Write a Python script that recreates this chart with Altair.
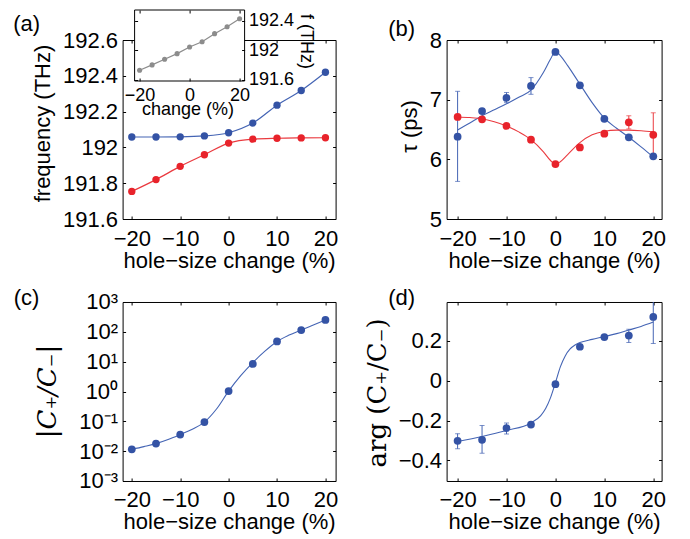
import altair as alt
import pandas as pd

# ---------------- data ----------------
pct = [-20, -15, -10, -5, 0, 5, 10, 15, 20]

# (a) resonance frequencies (THz)
freq_blue = [192.058, 192.058, 192.059, 192.064, 192.082, 192.136, 192.236, 192.318, 192.420]
freq_red = [191.754, 191.820, 191.894, 191.959, 192.024, 192.046, 192.051, 192.053, 192.054]
# (a) inset
inset_freq = [191.727, 191.800, 191.877, 191.954, 192.045, 192.117, 192.227, 192.322, 192.431]

# (b) lifetimes (ps)
tau_blue = [6.38, 6.81, 7.03, 7.23, 7.80, 7.24, 6.68, 6.37, 6.05]
tau_red = [6.71, 6.67, 6.56, 6.33, 5.92, 6.20, 6.43, 6.62, 6.41]
tau_blue_err_x = [-20, -10, -5]
tau_blue_err_lo = [5.63, 6.95, 7.09]
tau_blue_err_hi = [7.14, 7.12, 7.37]
tau_red_err_x = [15, 20]
tau_red_err_lo = [6.51, 6.03]
tau_red_err_hi = [6.73, 6.78]
tau_fit_x = [-20, -17.5, -15, -12.5, -10, -7.5, -5, -2.5, -1, 0, 1, 2.5, 5, 7.5, 10, 12.5, 15, 17.5, 20]
tau_blue_fit = [6.49, 6.61, 6.73, 6.83, 6.93, 7.04, 7.16, 7.45, 7.68, 7.81, 7.74, 7.57, 7.26, 6.95, 6.69, 6.52, 6.37, 6.21, 6.04]
tau_red_fit = [6.71, 6.70, 6.68, 6.63, 6.56, 6.46, 6.33, 6.13, 5.98, 5.92, 5.96, 6.08, 6.28, 6.41, 6.47, 6.49, 6.49, 6.48, 6.46]

# (c) |C+/C-|
ratio_abs = [0.0115, 0.0179, 0.0361, 0.0944, 1.03, 8.4, 47.7, 115, 251]
ratio_fit_x = [-20, -17.5, -15, -12.5, -10, -7.5, -5, -2.5, 0, 2.5, 5, 7.5, 10, 12.5, 15, 17.5, 20]
ratio_fit = [0.0115, 0.0142, 0.0179, 0.0245, 0.0361, 0.0547, 0.0944, 0.259, 1.03, 3.39, 9.3, 22.5, 47.7, 78, 115, 170, 251]

# (d) arg(C+/C-)
arg_ratio = [-0.302, -0.297, -0.238, -0.220, -0.017, 0.171, 0.220, 0.227, 0.321]
arg_err_x = [-20, -15, -10, 15, 20]
arg_err_lo = [-0.342, -0.364, -0.268, 0.192, 0.187]
arg_err_hi = [-0.266, -0.225, -0.213, 0.259, 0.45]
arg_fit_x = [-20, -15, -10, -5, -3, -2, -1, 0, 1, 2, 3, 4, 5, 7.5, 10, 12.5, 15, 17.5, 20]
arg_fit = [-0.305, -0.28, -0.25, -0.212, -0.175, -0.14, -0.085, -0.01, 0.07, 0.125, 0.16, 0.18, 0.192, 0.208, 0.222, 0.237, 0.255, 0.273, 0.295]

x_ticks = [-20, -10, 0, 10, 20]
a_ticks = [191.6, 191.8, 192, 192.2, 192.4, 192.6]
b_ticks = [5, 6, 7, 8]
c_ticks = [0.001, 0.01, 0.1, 1, 10, 100, 1000]
d_ticks = [-0.4, -0.2, 0, 0.2]
inset_x_ticks = [-20, 0, 20]
inset_y_ticks = [191.6, 192, 192.4]

# ---------------- style ----------------
FONT = "Liberation Sans"
SERIF = "DejaVu Serif"
FS = 22
IFS = 18
TK = 3
H = 179
W_AC, W_BD = 213, 215
XDOM_AC = [-21.9, 22.1]
XDOM_BD = [-22.25, 21.7]
BLUE = "#3453a5"
RED = "#e8232b"
BLUE_LINE = "#4464b4"
RED_LINE = "#ea3a3f"
GRAY = "#8c8c8c"
DOT = 60

IN_XDOM = [-22, 22]
IN_YDOM = [191.58, 192.55]


def sc(dom, log=False):
    if log:
        return alt.Scale(type="log", domain=dom, nice=False)
    return alt.Scale(domain=dom, nice=False, zero=False)


def x_axis():
    return alt.Axis(orient="bottom", values=x_ticks, format="~f", offset=-TK, tickSize=TK,
                    domain=False, grid=False, labelPadding=9, labelFontSize=FS,
                    labelFlush=False, labelOverlap=False, title="hole−size change (%)",
                    titleFontSize=FS, titleBaseline="alphabetic", titleY=51)


def y_axis(values, title, tx, ty, fmt=None, expr=None, tfont=FONT, tsize=FS, tstyle="normal"):
    kw = dict(orient="left", values=values, offset=-TK, tickSize=TK, domain=False, grid=False,
              labelPadding=5, labelFontSize=FS, labelFlush=False, labelOverlap=False,
              title=title, titleFont=tfont, titleFontSize=tsize, titleFontStyle=tstyle,
              titleAngle=-90, titleAlign="center", titleBaseline="alphabetic",
              titleX=tx, titleY=ty)
    if fmt:
        kw["format"] = fmt
    if expr:
        kw["labelExpr"] = expr
    return alt.Axis(**kw)


def mirror(orient, values):
    return alt.Axis(orient=orient, values=values, labels=False, offset=-TK, tickSize=TK,
                    domain=False, grid=False, title=None)


def panel_label(text, dx, dy):
    return alt.Chart(pd.DataFrame({"t": [text]})).mark_text(
        font=FONT, fontSize=FS, align="center", baseline="middle", color="black"
    ).encode(text="t:N", x=alt.value(dx), y=alt.value(dy))


def err_layers(df, xdom, yscale, color, clip=False):
    b = alt.Chart(df)
    rule = b.mark_rule(color=color, strokeWidth=1, clip=clip).encode(
        x=alt.X("x:Q", scale=sc(xdom), axis=None),
        y=alt.Y("lo:Q", scale=yscale, axis=None), y2="hi:Q")
    cap_lo = b.mark_tick(color=color, orient="horizontal", size=5, thickness=1, clip=clip).encode(
        x=alt.X("x:Q", scale=sc(xdom), axis=None), y=alt.Y("lo:Q", scale=yscale, axis=None))
    cap_hi = b.mark_tick(color=color, orient="horizontal", size=5, thickness=1, clip=clip).encode(
        x=alt.X("x:Q", scale=sc(xdom), axis=None), y=alt.Y("hi:Q", scale=yscale, axis=None))
    return [rule, cap_lo, cap_hi]


# ---------------- panel (a) ----------------
df_a = pd.DataFrame({"x": pct, "blue": freq_blue, "red": freq_red})
ya = sc([191.6, 192.6])
base_a = alt.Chart(df_a)
a_main = alt.layer(
    base_a.mark_line(color=BLUE_LINE, strokeWidth=1.2, interpolate="monotone").encode(
        x=alt.X("x:Q", scale=sc(XDOM_AC), axis=x_axis()),
        y=alt.Y("blue:Q", scale=ya, axis=y_axis(a_ticks, "frequency (THz)", -76.3, 83, fmt="~f"))),
    base_a.mark_line(color=RED_LINE, strokeWidth=1.2, interpolate="monotone").encode(
        x=alt.X("x:Q", scale=sc(XDOM_AC), axis=None), y=alt.Y("red:Q", scale=ya, axis=None)),
    base_a.mark_circle(color=BLUE, size=DOT - 6, opacity=1).encode(
        x=alt.X("x:Q", scale=sc(XDOM_AC), axis=None), y=alt.Y("blue:Q", scale=ya, axis=None)),
    base_a.mark_circle(color=RED, size=DOT - 6, opacity=1).encode(
        x=alt.X("x:Q", scale=sc(XDOM_AC), axis=None), y=alt.Y("red:Q", scale=ya, axis=None)),
    base_a.mark_point(opacity=0).encode(
        x=alt.X("x:Q", scale=sc(XDOM_AC), axis=mirror("top", x_ticks)),
        y=alt.Y("blue:Q", scale=ya, axis=mirror("right", a_ticks))),
    panel_label("(a)", -96, -16),
)

# inset
df_in = pd.DataFrame({"x": pct, "f": inset_freq})
df_box = pd.DataFrame({"x0": [IN_XDOM[0]], "x1": [IN_XDOM[1]], "y0": [IN_YDOM[0]], "y1": [IN_YDOM[1]]})
in_x = alt.Scale(domain=IN_XDOM, range=[12, 122], nice=False, zero=False)
in_y = alt.Scale(domain=IN_YDOM, range=[41, -30], nice=False, zero=False)
in_xaxis = alt.Axis(orient="bottom", values=inset_x_ticks, format="~f", offset=-(H - 41) - 3, tickSize=3,
                    domain=False, grid=False, labelPadding=5, labelFontSize=IFS, labelFlush=False,
                    labelOverlap=False, title="change (%)", titleFontSize=IFS,
                    titleBaseline="alphabetic", titleX=65, titleY=36, zindex=1)
in_yaxis = alt.Axis(orient="right", values=inset_y_ticks, format="~f", offset=(122 - 3) - W_AC, tickSize=3,
                    domain=False, grid=False, labelPadding=4, labelFontSize=IFS, labelFlush=False,
                    labelOverlap=False, title="f (THz)", titleFontSize=IFS, titleAngle=90,
                    titleAlign="center", titleBaseline="alphabetic", titleX=59, titleY=1, zindex=1)
in_xmirror = alt.Axis(orient="top", values=inset_x_ticks, labels=False, offset=27, tickSize=3,
                      domain=False, grid=False, title=None, zindex=1)
in_ymirror = alt.Axis(orient="left", values=inset_y_ticks, labels=False, offset=-15, tickSize=3,
                      domain=False, grid=False, title=None, zindex=1)
a_inset = alt.layer(
    alt.Chart(df_box).mark_rect(fill="white", stroke="black", strokeWidth=1).encode(
        x=alt.X("x0:Q", scale=in_x, axis=None), x2="x1:Q",
        y=alt.Y("y0:Q", scale=in_y, axis=None), y2="y1:Q"),
    alt.Chart(df_in).mark_line(color=GRAY, strokeWidth=1.2).encode(
        x=alt.X("x:Q", scale=in_x, axis=None), y=alt.Y("f:Q", scale=in_y, axis=None)),
    alt.Chart(df_in).mark_circle(color=GRAY, size=26, opacity=1).encode(
        x=alt.X("x:Q", scale=in_x, axis=in_xaxis), y=alt.Y("f:Q", scale=in_y, axis=in_yaxis)),
    alt.Chart(df_in).mark_point(opacity=0).encode(
        x=alt.X("x:Q", scale=in_x, axis=in_xmirror), y=alt.Y("f:Q", scale=in_y, axis=in_ymirror)),
)
panel_a = alt.layer(a_main, a_inset).resolve_scale(x="independent", y="independent").properties(
    width=W_AC, height=H)

# ---------------- panel (b) ----------------
df_b = pd.DataFrame({"x": pct, "blue": tau_blue, "red": tau_red})
df_bfit = pd.DataFrame({"x": tau_fit_x, "blue": tau_blue_fit, "red": tau_red_fit})
df_berr_blue = pd.DataFrame({"x": tau_blue_err_x, "lo": tau_blue_err_lo, "hi": tau_blue_err_hi})
df_berr_red = pd.DataFrame({"x": tau_red_err_x, "lo": tau_red_err_lo, "hi": tau_red_err_hi})
yb = sc([5, 8])
panel_b = alt.layer(
    alt.Chart(df_bfit).mark_line(color=BLUE_LINE, strokeWidth=1.1, interpolate="monotone").encode(
        x=alt.X("x:Q", scale=sc(XDOM_BD), axis=x_axis()),
        y=alt.Y("blue:Q", scale=yb, axis=y_axis(b_ticks, "τ (ps)", -33.3, 86, fmt="~f"))),
    alt.Chart(df_bfit).mark_line(color=RED_LINE, strokeWidth=1.1, interpolate="monotone").encode(
        x=alt.X("x:Q", scale=sc(XDOM_BD), axis=None), y=alt.Y("red:Q", scale=yb, axis=None)),
    *err_layers(df_berr_blue, XDOM_BD, yb, BLUE_LINE),
    *err_layers(df_berr_red, XDOM_BD, yb, RED_LINE),
    alt.Chart(df_b).mark_circle(color=BLUE, size=DOT, opacity=1).encode(
        x=alt.X("x:Q", scale=sc(XDOM_BD), axis=None), y=alt.Y("blue:Q", scale=yb, axis=None)),
    alt.Chart(df_b).mark_circle(color=RED, size=DOT, opacity=1).encode(
        x=alt.X("x:Q", scale=sc(XDOM_BD), axis=None), y=alt.Y("red:Q", scale=yb, axis=None)),
    alt.Chart(df_b).mark_point(opacity=0).encode(
        x=alt.X("x:Q", scale=sc(XDOM_BD), axis=mirror("top", x_ticks)),
        y=alt.Y("blue:Q", scale=yb, axis=mirror("right", b_ticks))),
    panel_label("(b)", -45, -11.5),
).properties(width=W_BD, height=H)

# ---------------- panel (c) ----------------
df_c = pd.DataFrame({"x": pct, "r": ratio_abs})
df_cfit = pd.DataFrame({"x": ratio_fit_x, "r": ratio_fit})
yc = sc([0.001, 1000], log=True)
c_expr = ("datum.value < 0.005 ? '10⁻³' : datum.value < 0.05 ? '10⁻²' : datum.value < 0.5 ? '10⁻¹' : "
          "datum.value < 5 ? '10⁰' : datum.value < 50 ? '10¹' : datum.value < 500 ? '10²' : '10³'")
panel_c = alt.layer(
    alt.Chart(df_cfit).mark_line(color=BLUE_LINE, strokeWidth=1.1, interpolate="monotone").encode(
        x=alt.X("x:Q", scale=sc(XDOM_AC), axis=x_axis()),
        y=alt.Y("r:Q", scale=yc, axis=y_axis(c_ticks, "|C₊/C₋|", -70, 89, expr=c_expr,
                                              tfont=SERIF, tsize=26, tstyle="italic"))),
    alt.Chart(df_c).mark_circle(color=BLUE, size=DOT, opacity=1).encode(
        x=alt.X("x:Q", scale=sc(XDOM_AC), axis=None), y=alt.Y("r:Q", scale=yc, axis=None)),
    alt.Chart(df_c).mark_point(opacity=0).encode(
        x=alt.X("x:Q", scale=sc(XDOM_AC), axis=mirror("top", x_ticks)),
        y=alt.Y("r:Q", scale=yc, axis=mirror("right", c_ticks))),
    panel_label("(c)", -96, -3.5),
).properties(width=W_AC, height=H)

# ---------------- panel (d) ----------------
df_d = pd.DataFrame({"x": pct, "a": arg_ratio})
df_dfit = pd.DataFrame({"x": arg_fit_x, "a": arg_fit})
df_derr = pd.DataFrame({"x": arg_err_x, "lo": arg_err_lo, "hi": arg_err_hi})
yd = sc([-0.504, 0.396])
panel_d = alt.layer(
    alt.Chart(df_dfit).mark_line(color=BLUE_LINE, strokeWidth=1.1, interpolate="monotone").encode(
        x=alt.X("x:Q", scale=sc(XDOM_BD), axis=x_axis()),
        y=alt.Y("a:Q", scale=yd, axis=y_axis(d_ticks, "arg (C₊/C₋)", -63.7, 90.5, fmt="~f",
                                              tfont=SERIF, tsize=26))),
    *err_layers(df_derr, XDOM_BD, yd, BLUE_LINE, clip=True),
    alt.Chart(df_d).mark_circle(color=BLUE, size=DOT, opacity=1).encode(
        x=alt.X("x:Q", scale=sc(XDOM_BD), axis=None), y=alt.Y("a:Q", scale=yd, axis=None)),
    alt.Chart(df_d).mark_point(opacity=0).encode(
        x=alt.X("x:Q", scale=sc(XDOM_BD), axis=mirror("top", x_ticks)),
        y=alt.Y("a:Q", scale=yd, axis=mirror("right", d_ticks))),
    panel_label("(d)", -45, -3.5),
).properties(width=W_BD, height=H)

chart = alt.concat(
    panel_a, panel_b, panel_c, panel_d, columns=2,
    spacing={"row": 15, "column": 25}, align="each",
).configure_view(stroke="black", strokeWidth=1).configure_axis(
    labelFont=FONT, titleFont=FONT, labelColor="black", titleColor="black",
    tickColor="black", tickWidth=1, titleFontWeight="normal",
).properties(padding={"left": 4.6, "top": 1, "right": 0, "bottom": 0}, background="white")

chart.save("out.html", embed_options={"renderer": "svg", "actions": False})
